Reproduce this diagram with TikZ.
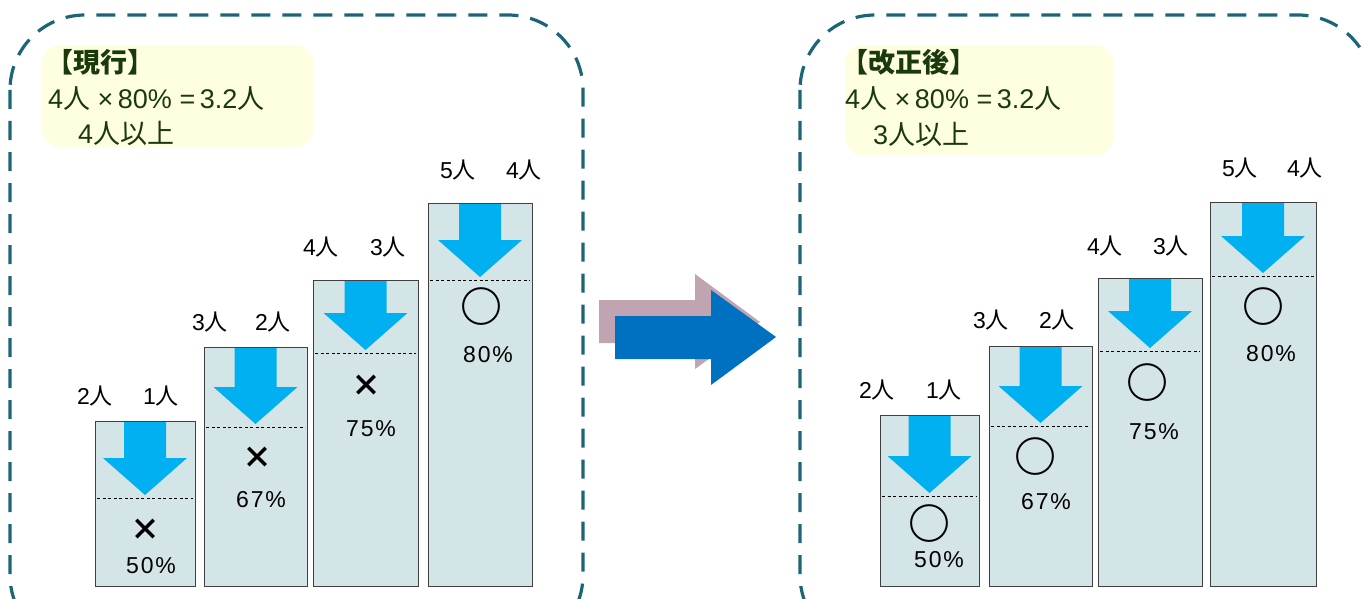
\documentclass[tikz,border=0pt]{standalone}
\usepackage{fontspec}
\setmainfont{Liberation Sans}
\newfontfamily\jp{Noto Sans CJK JP}
\newfontfamily\pctfont[LetterSpace=8]{Liberation Sans}
\definecolor{teal}{HTML}{1C6577}
\definecolor{barfill}{HTML}{D4E5E8}
\definecolor{cyanarrow}{HTML}{00B0F0}
\definecolor{bigblue}{HTML}{0070C0}
\definecolor{pinkshadow}{HTML}{C0A4B2}
\definecolor{notefill}{HTML}{FEFEE0}
\definecolor{notetext}{HTML}{1A3A0A}
\tikzset{
  frame/.style={draw=teal, line width=3.2pt, dash pattern=on 19pt off 12pt, rounded corners=75pt},
  note/.style={fill=notefill, rounded corners=18pt},
  notetxt/.style={anchor=west, inner sep=0pt, text=notetext, font=\fontsize{27}{30}\selectfont},
  lbl/.style={inner sep=0pt, font=\fontsize{23}{26}\selectfont},
  pct/.style={inner sep=0pt, font=\pctfont\fontsize{23}{26}\selectfont},
  xmark/.style={font=\fontsize{30}{30}\selectfont},
  omark/.style={font=\fontsize{42}{42}\selectfont},
}
\newcommand\markx{{\jp\bfseries ×}}
\newcommand\marko{{\jp\bfseries ○}}
% \stepcol{name}{x1}{x2}{ytop}{ydash}
\newcommand\stepcol[5]{%
  \node[draw=black!75, line width=1pt, fill=barfill, anchor=north west, inner sep=0pt,
        minimum width=#3pt-#2pt, minimum height=586pt-#4pt] (#1) at (#2,#4) {};
  \pgfmathsetmacro\cx{(#2+#3)/2}
  \pgfmathsetmacro\tip{#5-3}
  \pgfmathsetmacro\hs{#5-40}
  \fill[cyanarrow] (\cx-21,#4+1) -- (\cx+21,#4+1) -- (\cx+21,\hs) -- (\cx+42,\hs)
     -- (\cx,\tip) -- (\cx-42,\hs) -- (\cx-21,\hs) -- cycle;
  \draw[line width=0.8pt, dash pattern=on 3pt off 2.5pt] (#2+2,#5) -- (#3-2,#5);
}
\begin{document}
\begin{tikzpicture}[x=1pt,y=-1pt]
\useasboundingbox (0,0) rectangle (1364,599);
% frames
\draw[frame] (10,15) rectangle (583,650);
\draw[frame] (800,15) rectangle (1373,650);
% notes
\fill[note] (42,45) rectangle (313,147);
\fill[note] (845,45) rectangle (1113,155);
\node[notetxt] (t1) at (46,62) {\jp\bfseries 【現行】};
\node[notetxt] (t2) at (48,99) {4{\jp 人}\ ×\,80\%\ =\,3.2{\jp 人}};
\node[notetxt] (t3) at (78,133) {4{\jp 人以上}};
\node[notetxt] (u1) at (841,62) {\jp\bfseries 【改正後】};
\node[notetxt] (u2) at (845,99) {4{\jp 人}\ ×\,80\%\ =\,3.2{\jp 人}};
\node[notetxt] (u3) at (873,134) {3{\jp 人以上}};
% left columns
\stepcol{a1}{95}{195}{421}{498}
\stepcol{a2}{204}{307}{347}{427}
\stepcol{a3}{313}{418}{280}{353}
\stepcol{a4}{428}{532}{203}{280}
% right columns
\stepcol{b1}{880}{979}{415}{496}
\stepcol{b2}{989}{1092}{346}{426}
\stepcol{b3}{1098}{1202}{278}{351}
\stepcol{b4}{1210}{1316}{202}{276}
% labels left
\node[lbl] (la1) at (95,396) {2{\jp 人}};
\node[lbl] (lb1) at (161,396) {1{\jp 人}};
\node[lbl] (la2) at (210,322) {3{\jp 人}};
\node[lbl] (lb2) at (273,322) {2{\jp 人}};
\node[lbl] (la3) at (321,247) {4{\jp 人}};
\node[lbl] (lb3) at (388,247) {3{\jp 人}};
\node[lbl] (la4) at (458,170) {5{\jp 人}};
\node[lbl] (lb4) at (524,170) {4{\jp 人}};
% labels right
\node[lbl] (ra1) at (877,390) {2{\jp 人}};
\node[lbl] (rb1) at (944,390) {1{\jp 人}};
\node[lbl] (ra2) at (991,320) {3{\jp 人}};
\node[lbl] (rb2) at (1057,320) {2{\jp 人}};
\node[lbl] (ra3) at (1105,246) {4{\jp 人}};
\node[lbl] (rb3) at (1171,246) {3{\jp 人}};
\node[lbl] (ra4) at (1240,168) {5{\jp 人}};
\node[lbl] (rb4) at (1305,168) {4{\jp 人}};
% marks & percents left
\node[xmark] (ma1) at (145,530) {\markx};
\node[pct] (pa1) at (151,566) {50\%};
\node[xmark] (ma2) at (257,458) {\markx};
\node[pct] (pa2) at (261,500) {67\%};
\node[xmark] (ma3) at (366,386) {\markx};
\node[pct] (pa3) at (371,429) {75\%};
\node[omark] (ma4) at (481,307) {\marko};
\node[pct] (pa4) at (488,355) {80\%};
% marks & percents right
\node[omark] (mb1) at (929,524) {\marko};
\node[pct] (pb1) at (939,560) {50\%};
\node[omark] (mb2) at (1035,457) {\marko};
\node[pct] (pb2) at (1046,502) {67\%};
\node[omark] (mb3) at (1147,383) {\marko};
\node[pct] (pb3) at (1154,432) {75\%};
\node[omark] (mb4) at (1263,307) {\marko};
\node[pct] (pb4) at (1271,354) {80\%};
% middle arrow
\fill[pinkshadow] (599,300) -- (695,300) -- (695,274) -- (760,322) -- (695,369) -- (695,343) -- (599,343) -- cycle;
\fill[bigblue] (615,316) -- (711,316) -- (711,290) -- (776,337) -- (711,385) -- (711,359) -- (615,359) -- cycle;
\end{tikzpicture}
\end{document}
